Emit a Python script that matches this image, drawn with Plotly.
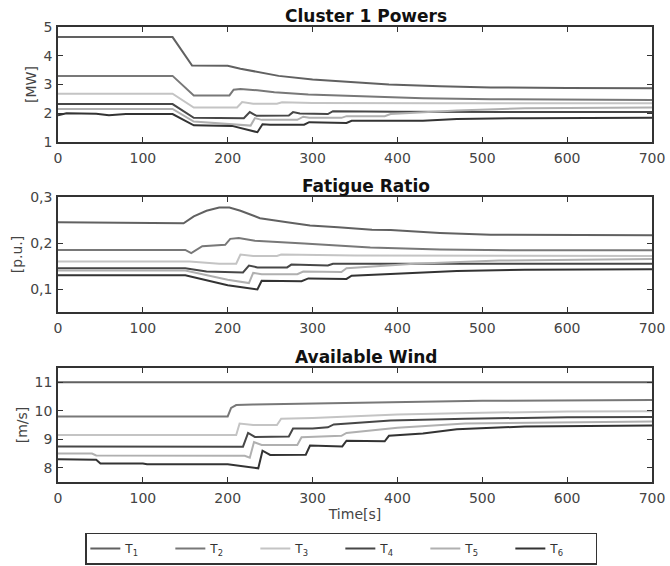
import plotly.graph_objects as go

# ---- Cluster 1 powers [MW] ----
pw_t1_time = [0, 135, 158, 200, 215, 240, 260, 300, 345, 390, 450, 510, 600, 700]
pw_t1 = [4.65, 4.65, 3.66, 3.65, 3.55, 3.4, 3.3, 3.17, 3.09, 3.0, 2.94, 2.9, 2.88, 2.87]
pw_t2_time = [0, 135, 160, 202, 207, 215, 235, 255, 295, 340, 375, 430, 510, 600, 700]
pw_t2 = [3.3, 3.3, 2.62, 2.62, 2.82, 2.84, 2.8, 2.73, 2.65, 2.6, 2.56, 2.52, 2.49, 2.47, 2.46]
pw_t3_time = [0, 135, 160, 211, 217, 230, 258, 264, 300, 360, 450, 700]
pw_t3 = [2.68, 2.68, 2.2, 2.2, 2.39, 2.33, 2.33, 2.38, 2.36, 2.35, 2.35, 2.35]
pw_t4_time = [0, 135, 160, 219, 226, 234, 272, 277, 285, 318, 324, 400, 700]
pw_t4 = [2.32, 2.32, 1.84, 1.83, 2.04, 1.91, 1.92, 2.04, 1.99, 1.97, 2.07, 2.05, 2.04]
pw_t5_time = [0, 135, 160, 227, 232, 240, 282, 289, 296, 334, 340, 385, 392, 470, 550, 700]
pw_t5 = [2.15, 2.15, 1.71, 1.57, 1.83, 1.77, 1.77, 1.88, 1.84, 1.84, 1.9, 1.9, 1.97, 2.1, 2.17, 2.2]
pw_t6_time = [0, 10, 45, 60, 80, 135, 160, 205, 235, 241, 250, 290, 296, 340, 346, 430, 470, 550, 700]
pw_t6 = [1.93, 2.0, 1.98, 1.93, 1.97, 1.97, 1.58, 1.56, 1.34, 1.62, 1.6, 1.6, 1.69, 1.66, 1.74, 1.74, 1.8, 1.83, 1.84]

# ---- Fatigue ratio [p.u.] ----
ft_t1_time = [0, 148, 160, 175, 190, 202, 215, 238, 270, 297, 330, 370, 392, 450, 510, 600, 700]
ft_t1 = [0.245, 0.243, 0.258, 0.27, 0.277, 0.277, 0.27, 0.254, 0.245, 0.238, 0.234, 0.229, 0.228, 0.222, 0.218, 0.217, 0.217]
ft_t2_time = [0, 150, 157, 170, 197, 203, 213, 232, 290, 368, 450, 550, 700]
ft_t2 = [0.185, 0.185, 0.178, 0.193, 0.196, 0.209, 0.211, 0.205, 0.199, 0.19, 0.186, 0.184, 0.184]
ft_t3_time = [0, 155, 190, 210, 215, 230, 258, 263, 350, 700]
ft_t3 = [0.16, 0.16, 0.155, 0.155, 0.175, 0.172, 0.172, 0.175, 0.173, 0.172]
ft_t4_time = [0, 150, 175, 218, 225, 235, 270, 275, 318, 324, 700]
ft_t4 = [0.145, 0.145, 0.138, 0.136, 0.151, 0.147, 0.147, 0.153, 0.151, 0.155, 0.155]
ft_t5_time = [0, 150, 200, 225, 230, 240, 282, 289, 334, 340, 420, 520, 700]
ft_t5 = [0.14, 0.14, 0.12, 0.113, 0.135, 0.132, 0.132, 0.138, 0.137, 0.145, 0.155, 0.162, 0.165]
ft_t6_time = [0, 150, 200, 235, 240, 287, 295, 340, 346, 400, 470, 550, 700]
ft_t6 = [0.13, 0.13, 0.108, 0.099, 0.118, 0.117, 0.123, 0.122, 0.129, 0.134, 0.139, 0.142, 0.143]

# ---- Available wind [m/s] ----
wd_t1_time = [0, 700]
wd_t1 = [11.0, 11.0]
wd_t2_time = [0, 200, 204, 210, 230, 300, 400, 500, 700]
wd_t2 = [9.8, 9.8, 10.1, 10.2, 10.22, 10.26, 10.3, 10.35, 10.38]
wd_t3_time = [0, 210, 214, 230, 258, 263, 300, 350, 400, 500, 600, 700]
wd_t3 = [9.15, 9.15, 9.55, 9.5, 9.5, 9.72, 9.75, 9.82, 9.87, 9.93, 9.97, 9.98]
wd_t4_time = [0, 218, 224, 232, 272, 277, 300, 318, 325, 392, 480, 600, 700]
wd_t4 = [8.75, 8.74, 9.22, 9.08, 9.1, 9.38, 9.38, 9.42, 9.52, 9.66, 9.72, 9.77, 9.78]
wd_t5_time = [0, 40, 45, 220, 226, 231, 240, 282, 287, 334, 340, 400, 480, 600, 700]
wd_t5 = [8.5, 8.5, 8.43, 8.42, 8.35, 8.9, 8.8, 8.8, 9.07, 9.12, 9.22, 9.4, 9.55, 9.6, 9.62]
wd_t6_time = [0, 45, 50, 100, 105, 200, 236, 241, 250, 292, 297, 335, 340, 385, 390, 430, 470, 550, 700]
wd_t6 = [8.3, 8.28, 8.15, 8.15, 8.12, 8.12, 7.98, 8.6, 8.45, 8.46, 8.78, 8.75, 8.95, 8.93, 9.12, 9.2, 9.35, 9.45, 9.48]

names = ["T<sub>1</sub>", "T<sub>2</sub>", "T<sub>3</sub>", "T<sub>4</sub>", "T<sub>5</sub>", "T<sub>6</sub>"]
colors = ["#616161", "#787878", "#c4c4c4", "#474747", "#b0b0b0", "#333333"]

panels = [
    ("Cluster 1 Powers", "[MW]",
     [(pw_t1_time, pw_t1), (pw_t2_time, pw_t2), (pw_t3_time, pw_t3),
      (pw_t4_time, pw_t4), (pw_t5_time, pw_t5), (pw_t6_time, pw_t6)],
     [1, 5], [1, 2, 3, 4, 5], ["1", "2", "3", "4", "5"]),
    ("Fatigue Ratio", "[p.u.]",
     [(ft_t1_time, ft_t1), (ft_t2_time, ft_t2), (ft_t3_time, ft_t3),
      (ft_t4_time, ft_t4), (ft_t5_time, ft_t5), (ft_t6_time, ft_t6)],
     [0.05, 0.3], [0.1, 0.2, 0.3], ["0,1", "0,2", "0,3"]),
    ("Available Wind", "[m/s]",
     [(wd_t1_time, wd_t1), (wd_t2_time, wd_t2), (wd_t3_time, wd_t3),
      (wd_t4_time, wd_t4), (wd_t5_time, wd_t5), (wd_t6_time, wd_t6)],
     [7.5, 11.5], [8, 9, 10, 11], ["8", "9", "10", "11"]),
]

x_ticks = [0, 100, 200, 300, 400, 500, 600, 700]

W, H = 670, 566
ML, MR, MT, MB = 58, 18, 27, 84
plot_h = H - MT - MB
# vertical pixel extents of the three axes boxes (top, bottom)
boxes = [(27, 142), (197, 312), (368, 482)]

FONT = "DejaVu Sans"
AXC = "#333333"
TXT = "#444444"

fig = go.Figure()
layout = dict(
    width=W, height=H,
    margin=dict(l=ML, r=MR, t=MT, b=MB, autoexpand=False),
    paper_bgcolor="white", plot_bgcolor="white",
    font=dict(family=FONT, size=14, color=TXT),
    showlegend=True,
    legend=dict(
        orientation="h", x=0.477, xanchor="center", y=-0.111, yanchor="top",
        bordercolor=AXC, borderwidth=1.5, bgcolor="white",
        entrywidth=40, entrywidthmode="pixels",
        font=dict(family=FONT, size=12, color="#333"),
        tracegroupgap=0,
    ),
)
annotations = []

for i, (title, ylab, series, yrange, yt, ytt) in enumerate(panels):
    top, bot = boxes[i]
    d0 = (H - MB - bot) / plot_h
    d1 = (H - MB - top) / plot_h
    xa = "xaxis" if i == 0 else f"xaxis{i+1}"
    ya = "yaxis" if i == 0 else f"yaxis{i+1}"
    xref = "x" if i == 0 else f"x{i+1}"
    yref = "y" if i == 0 else f"y{i+1}"
    for k, (t, v) in enumerate(series):
        fig.add_trace(go.Scatter(
            x=t, y=v, mode="lines", name=names[k],
            line=dict(color=colors[k], width=2),
            xaxis=xref, yaxis=yref,
            showlegend=(i == 0), legendgroup=names[k],
        ))
    common = dict(showline=True, linecolor=AXC, linewidth=1.5, mirror="ticks",
                  ticks="inside", ticklen=5, tickwidth=1.2, tickcolor=AXC,
                  showgrid=False, zeroline=False,
                  tickfont=dict(family=FONT, size=14, color=TXT))
    layout[xa] = dict(common, domain=[0, 1], range=[0, 700], tickvals=x_ticks,
                      anchor=yref, ticklabelstandoff=2)
    if i == 2:
        layout[xa]["title"] = dict(text="Time[s]", standoff=5,
                                   font=dict(family=FONT, size=14, color=TXT))
    layout[ya] = dict(common, domain=[d0, d1], range=yrange, tickvals=yt,
                      ticktext=ytt, anchor=xref, ticklabelstandoff=1,
                      title=dict(text=ylab, standoff=4,
                                 font=dict(family=FONT, size=14, color=TXT)))
    annotations.append(dict(
        text=f"<b>{title}</b>", x=0.5, xref="paper", y=d1, yref="paper",
        xshift=11, yanchor="bottom", yshift=-1, showarrow=False,
        font=dict(family=FONT, size=17, color="#111"),
    ))

layout["annotations"] = annotations
fig.update_layout(**layout)
fig.write_html("out.html")
